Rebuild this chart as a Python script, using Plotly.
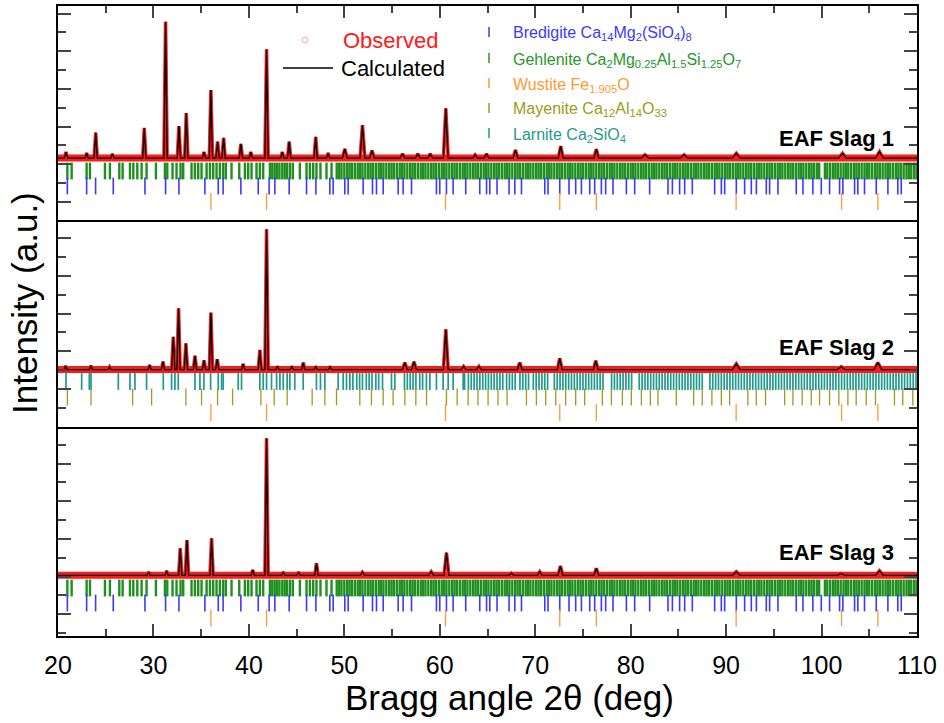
import plotly.graph_objects as go

# ---------------- data ----------------
X_RANGE = [20, 110]

# reflection positions (2theta, deg) of each phase
wustite = [36.02, 41.85, 60.6, 72.57, 76.4, 91.05, 102.1, 105.9]

bredigite = [20.98, 23.0, 23.94, 25.79, 29.11, 31.27, 32.67, 35.39, 36.79, 37.3, 39.16,
             40.98, 42.12, 42.72, 44.22, 46.04, 47.02, 48.48, 48.83, 50.05, 50.4, 51.97,
             52.95, 53.37, 54.07, 55.64, 56.16, 57.04, 59.65, 60.0, 60.7, 61.4, 62.72,
             64.19, 64.9, 65.24, 66.0, 67.26, 67.86, 68.56, 71.0, 71.34, 72.57, 73.54,
             74.24, 74.84, 75.71, 76.23, 76.93, 77.38, 78.15, 79.55, 80.42, 81.99, 83.91,
             84.37, 85.13, 85.66, 86.46, 88.8, 89.5, 89.85, 91.07, 91.94, 92.64, 93.17,
             94.21, 94.56, 95.43, 97.35, 98.05, 99.09, 99.97, 100.84, 101.89, 102.23,
             103.46, 103.8, 104.5, 105.73, 106.95, 107.99, 108.35]

gehlenite = [20.98, 21.43, 23.0, 23.35, 24.92, 25.44, 26.42, 26.77, 27.54, 27.89, 28.31,
             28.76, 29.28, 30.26, 31.2, 31.45, 32.0, 32.42, 32.84, 33.12, 33.99, 34.34,
             34.69, 35.04, 35.57, 35.92, 36.26, 36.61, 36.96, 37.31, 37.59, 38.18, 38.99,
             39.58, 39.93, 40.28, 40.8, 41.15, 41.5, 42.2, 42.45, 42.7, 42.95, 43.2, 43.5,
             43.75, 44.0, 44.3, 44.6, 45.34, 46.04, 46.39, 46.74, 47.08, 47.5, 48.13, 48.66,
             49.2, 49.45, 49.7, 50.0, 50.3, 50.55, 50.8, 51.1, 51.4, 51.65, 51.9, 52.2, 52.5,
             52.75, 53.0, 53.3, 53.6, 53.85, 54.1, 54.4, 54.7, 54.95, 55.2, 55.5, 55.8,
             56.05, 56.3, 56.6, 56.9, 57.15, 57.4, 57.7, 58.0, 58.25, 58.5, 58.8, 59.1,
             59.35, 59.6, 59.9, 60.2, 60.45, 60.7, 61.0, 61.3, 61.55, 61.8, 62.1, 62.4,
             62.65, 62.9, 63.2, 63.5, 63.75, 64.0, 64.3, 64.6, 64.85, 65.1, 65.4, 65.7,
             65.95, 66.2, 66.5, 66.8, 67.05, 67.3, 67.6, 67.9, 68.15, 68.4, 68.7, 69.0,
             69.25, 69.5, 69.8, 70.1, 70.35, 70.6, 70.9, 71.2, 71.45, 71.7, 72.0, 72.3,
             72.55, 72.8, 73.1, 73.4, 73.65, 73.9, 74.2, 74.5, 74.75, 75.0, 75.3, 75.6,
             75.85, 76.1, 76.4, 76.7, 76.95, 77.2, 77.5, 77.8, 78.05, 78.3, 78.6, 78.9,
             79.15, 79.4, 79.7, 80.0, 80.25, 80.5, 80.8, 81.1, 81.35, 81.6, 81.9, 82.2,
             82.45, 82.7, 83.0, 83.3, 83.55, 83.8, 84.1, 84.4, 84.65, 84.9, 85.2, 85.5,
             85.75, 86.0, 86.3, 86.6, 86.85, 87.1, 87.4, 87.7, 87.95, 88.2, 88.5, 88.8,
             89.05, 89.3, 89.6, 89.9, 90.15, 90.4, 90.7, 91.0, 91.25, 91.5, 91.8, 92.1,
             92.35, 92.6, 92.9, 93.2, 93.45, 93.7, 94.0, 94.3, 94.55, 94.8, 95.1, 95.4,
             95.65, 95.9, 96.2, 96.5, 96.75, 97.0, 97.3, 97.6, 97.85, 98.1, 98.4, 98.7,
             98.95, 99.2, 99.5, 99.75, 100.35, 100.6, 100.9, 101.2, 101.45, 101.7, 102.0,
             102.3, 102.55, 102.8, 103.1, 103.4, 103.65, 103.9, 104.2, 104.5, 104.75, 105.0,
             105.3, 105.6, 105.85, 106.1, 106.4, 106.7, 106.95, 107.2, 107.5, 107.8, 108.05,
             108.3, 108.6, 108.9, 109.15, 109.4, 109.7, 109.95]

mayenite = [20.98, 23.46, 27.82, 29.81, 33.4, 35.04, 36.72, 38.29, 41.26, 42.65, 44.01,
            46.63, 47.96, 49.18, 51.62, 52.84, 54.07, 55.11, 56.34, 57.49, 58.61, 60.7,
            61.82, 62.97, 64.0, 65.06, 66.1, 67.05, 69.08, 70.12, 71.1, 72.15, 73.19, 74.24,
            75.18, 77.03, 77.98, 79.13, 80.07, 81.12, 82.06, 82.86, 84.78, 86.6, 87.5,
            88.51, 89.5, 90.37, 92.28, 93.16, 94.13, 96.13, 97.0, 97.97, 98.92, 99.79,
            100.84, 101.81, 102.76, 103.63, 104.68, 105.65, 107.64, 108.51, 109.56]

larnite = [20.84, 22.48, 23.28, 23.46, 26.32, 27.54, 28.06, 29.28, 31.03, 31.9, 32.25, 32.6,
           34.35, 34.87, 35.29, 35.99, 36.79, 37.14, 37.31, 38.88, 39.23, 41.15, 41.5, 41.85,
           42.37, 42.9, 43.25, 43.6, 44.01, 44.29, 44.81, 45.69, 47.08, 47.5, 47.96, 49.35,
           49.88, 50.23, 50.58, 50.9, 51.3, 51.6, 51.9, 52.3, 52.6, 52.9, 53.3, 53.6, 54.0,
           54.94, 55.29, 56.3, 56.6, 56.9, 57.2, 57.5, 57.9, 58.2, 58.6, 58.96, 59.65, 60.35,
           60.88, 61.4, 62.45, 62.6, 63.0, 63.3, 63.6, 63.9, 64.2, 64.5, 64.8, 65.1, 65.4,
           65.7, 66.0, 66.3, 66.6, 67.0, 67.3, 67.6, 67.9, 68.4, 68.7, 69.0, 69.3, 69.8,
           70.1, 70.4, 70.7, 71.0, 71.3, 72.0, 72.3, 72.6, 72.9, 73.2, 73.5, 73.8, 74.1,
           74.4, 74.7, 75.0, 75.3, 75.6, 75.9, 76.2, 76.5, 76.8, 77.1, 78.0, 78.3, 78.6,
           78.9, 79.2, 79.5, 79.8, 80.1, 80.9, 81.2, 81.5, 81.8, 82.1, 82.4, 82.7, 83.0,
           83.3, 83.6, 83.9, 84.2, 84.5, 84.8, 85.1, 85.4, 85.7, 86.0, 86.3, 86.6, 86.9,
           87.2, 87.5, 88.3, 88.6, 88.9, 89.2, 89.5, 89.8, 90.1, 90.4, 90.7, 91.0, 91.3,
           91.6, 91.9, 92.2, 92.5, 92.8, 93.1, 93.4, 93.7, 94.0, 94.3, 94.6, 94.9, 95.2,
           95.5, 95.8, 96.1, 96.4, 96.7, 97.0, 97.3, 97.6, 97.9, 98.2, 98.5, 98.8, 99.1,
           99.4, 99.7, 100.0, 100.3, 100.6, 100.9, 101.2, 101.5, 101.8, 102.1, 102.4, 102.7,
           103.0, 103.3, 103.6, 103.9, 104.2, 104.5, 104.8, 105.1, 105.4, 105.7, 106.0,
           106.3, 106.6, 106.9, 107.2, 107.5, 107.8, 108.1, 108.4, 108.7, 109.0, 109.3,
           109.6, 109.9]

# diffraction peaks of each sample: background level, peak positions, peak maxima (a.u.)
slag1_base = 2.33
slag1_pos = [20.84, 23.0, 23.95, 25.7, 29.04, 31.27, 32.67, 33.44, 35.3, 36.02, 36.72, 37.35,
             39.16, 40.2, 41.85, 43.5, 44.22, 47.0, 48.3, 50.05, 51.9, 52.9, 56.1, 57.7,
             59.0, 60.63, 63.7, 64.9, 67.93, 72.67, 76.4, 81.5, 85.6, 91.07, 102.2, 106.07]
slag1_int = [2.65, 2.6, 3.68, 2.55, 3.93, 9.56, 4.03, 4.72, 2.65, 5.94, 3.2, 3.4,
             3.08, 2.65, 8.1, 2.65, 3.2, 3.46, 2.6, 2.81, 4.08, 2.73, 2.55, 2.55,
             2.55, 4.97, 2.5, 2.55, 2.76, 2.97, 2.8, 2.5, 2.5, 2.58, 2.58, 2.67]

slag2_base = 1.03
slag2_pos = [20.8, 23.45, 25.4, 29.6, 31.0, 32.08, 32.63, 33.4, 34.35, 35.3, 36.02, 36.68,
             39.4, 41.15, 41.85, 43.0, 44.5, 45.7, 47.0, 48.5, 56.34, 57.3, 60.63, 62.5,
             64.1, 68.38, 72.57, 76.34, 91.07, 102.06, 105.9]
slag2_int = [1.22, 1.24, 1.17, 1.27, 1.45, 2.77, 4.28, 2.42, 1.76, 1.52, 4.05, 1.58,
             1.33, 2.07, 8.47, 1.2, 1.2, 1.4, 1.2, 1.2, 1.4, 1.45, 3.17, 1.2,
             1.2, 1.4, 1.63, 1.5, 1.33, 1.18, 1.4]

slag3_base = 2.07
slag3_pos = [29.5, 31.38, 32.81, 33.51, 36.09, 40.4, 41.85, 43.6, 45.2, 47.08, 51.9, 59.1,
             60.7, 67.5, 70.47, 72.64, 76.4, 91.07, 102.06, 106.07]
slag3_int = [2.24, 2.31, 3.5, 3.94, 4.03, 2.35, 9.34, 2.24, 2.24, 2.71, 2.24, 2.26,
             3.27, 2.18, 2.26, 2.56, 2.44, 2.26, 2.17, 2.31]

samples = ["EAF Slag 1", "EAF Slag 2", "EAF Slag 3"]

# ---------------- styling ----------------
FONT = "Arial, 'Liberation Sans', Helvetica, sans-serif"
RED = "#ff1a1a"
BLUE = "#3a3aff"
GREEN = "#1f8f1f"
ORANGE = "#ff9a30"
OLIVE = "#9c9c20"
TEAL = "#1f9a8c"

W, H = 944, 723
L, R, T, B = 58, 27, 6, 87
PW, PH = W - L - R, H - T - B


def px2x(px):
    return (px - L) / PW


def px2y(py):
    return (H - B - py) / PH


def profile(base, pos, hts):
    """polyline of background + peak maxima"""
    xs, ys = [X_RANGE[0]], [base]
    for p, h in sorted(zip(pos, hts)):
        hw = 0.17 if p < 50 else (0.25 if p < 80 else 0.4)
        xs += [p - hw, p, p + hw]
        ys += [base, h, base]
    xs.append(X_RANGE[1])
    ys.append(base)
    return xs, ys


# panel pixel extents (top, bottom, pixel of y=0)
panels = [(6, 220, 202.0), (220, 427, 389.0), (427, 636, 614.3)]
UNIT = 18.85  # px per a.u. tick step

fig = go.Figure()

data_sets = [(slag1_base, slag1_pos, slag1_int),
             (slag2_base, slag2_pos, slag2_int),
             (slag3_base, slag3_pos, slag3_int)]

# reflection rows: (phase list, colour, y row in a.u., line width)
rows = [
    [(gehlenite, GREEN, (202 - 171) / UNIT, 2.4), (bredigite, BLUE, (202 - 186) / UNIT, 1.6),
     (wustite, ORANGE, (202 - 201.5) / UNIT, 1.3)],
    [(larnite, TEAL, (389 - 381.5) / UNIT, 1.7), (mayenite, OLIVE, (389 - 397) / UNIT, 1.3),
     (wustite, ORANGE, (389 - 412.5) / UNIT, 1.3)],
    [(gehlenite, GREEN, (614.3 - 588) / UNIT, 2.4), (bredigite, BLUE, (614.3 - 603) / UNIT, 1.6),
     (wustite, ORANGE, (614.3 - 618) / UNIT, 1.3)],
]

for i, ((base, pos, hts), rowset) in enumerate(zip(data_sets, rows)):
    ax = "" if i == 0 else str(i + 1)
    xs, ys = profile(base, pos, hts)
    # observed: dense open circles -> thick band on the background, thin trace on peaks
    fig.add_trace(go.Scatter(x=X_RANGE, y=[base, base], mode="lines",
                             line=dict(color=RED, width=7),
                             xaxis="x" + ax, yaxis="y" + ax, hoverinfo="skip"))
    fig.add_trace(go.Scatter(x=xs, y=ys, mode="lines", line=dict(color=RED, width=3.5),
                             xaxis="x" + ax, yaxis="y" + ax, name="Observed", hoverinfo="skip"))
    fig.add_trace(go.Scatter(x=xs, y=ys, mode="lines", line=dict(color="black", width=1.3),
                             xaxis="x" + ax, yaxis="y" + ax, name="Calculated"))
    for lst, col, yrow, lw in rowset:
        fig.add_trace(go.Scatter(x=lst, y=[yrow] * len(lst), mode="markers",
                                 marker=dict(symbol="line-ns", size=12,
                                             line=dict(color=col, width=lw)),
                                 xaxis="x" + ax, yaxis="y" + ax, hoverinfo="skip"))

axis_line = dict(showline=True, linecolor="black", linewidth=2,
                 showgrid=False, zeroline=False)

layout = dict(width=W, height=H, margin=dict(l=L, r=R, t=T, b=B),
              plot_bgcolor="white", paper_bgcolor="white", showlegend=False,
              font=dict(family=FONT, color="black"))

for i, (top, bot, zero) in enumerate(panels):
    ax = "" if i == 0 else str(i + 1)
    ydom = [px2y(bot), px2y(top)]
    yr = [-(bot - zero) / UNIT, (zero - top) / UNIT]
    layout["yaxis" + ax] = dict(domain=ydom, range=yr, anchor="x" + ax, ticks="inside",
                                ticklen=13, tickwidth=2, tick0=0, dtick=2, mirror="ticks",
                                minor=dict(ticks="inside", ticklen=8, tickwidth=1.5, dtick=1),
                                showticklabels=False, **axis_line)
    xa = dict(domain=[0, 1], range=X_RANGE, anchor="y" + ax, **axis_line)
    if i > 0:
        xa["matches"] = "x"
    if i == 0:
        # top frame with ticks + separator line below panel 1
        xa.update(side="top", mirror=True, ticks="inside", ticklen=12, tickwidth=2, tick0=0,
                  dtick=10, minor=dict(ticks="inside", ticklen=7, tickwidth=1.5, dtick=5),
                  showticklabels=False)
    elif i == 1:
        xa.update(side="bottom", mirror=False, ticks="", showticklabels=False)
    else:
        xa.update(side="bottom", mirror=False, ticks="inside", ticklen=12, tickwidth=2,
                  tick0=0, dtick=10,
                  minor=dict(ticks="inside", ticklen=7, tickwidth=1.5, dtick=5),
                  tickfont=dict(size=25, family=FONT, color="black"), ticklabelstandoff=6)
    layout["xaxis" + ax] = xa

fig.update_layout(**layout)


def label(text, px, py, size, color="black", xanchor="left", angle=0):
    return dict(text=text, x=px2x(px), y=px2y(py), xref="paper", yref="paper",
                xanchor=xanchor, yanchor="middle", showarrow=False, textangle=angle,
                font=dict(size=size, family=FONT, color=color))


ann = []
# axis titles
ann.append(label("Bragg angle 2θ (deg)", 509, 697, 35, xanchor="center"))
ann.append(label("Intensity (a.u.)", 24, 303, 35, xanchor="center", angle=-90))
# sample labels
for s, py in zip(samples, [138, 347, 552]):
    ann.append(label("<b>%s</b>" % s, 896, py, 22, xanchor="right"))
# legend: observed / calculated
ann.append(label("Observed", 341, 40, 22, color=RED))
ann.append(label("Calculated", 339, 68, 22))
# legend: phases
phases = [("Bredigite Ca<sub>14</sub>Mg<sub>2</sub>(SiO<sub>4</sub>)<sub>8</sub>", BLUE),
          ("Gehlenite Ca<sub>2</sub>Mg<sub>0.25</sub>Al<sub>1.5</sub>Si<sub>1.25</sub>O<sub>7</sub>", "#2a962a"),
          ("Wustite Fe<sub>1.905</sub>O", ORANGE),
          ("Mayenite Ca<sub>12</sub>Al<sub>14</sub>O<sub>33</sub>", OLIVE),
          ("Larnite Ca<sub>2</sub>SiO<sub>4</sub>", TEAL)]
shapes = []
for (txt, col), py in zip(phases, [32, 58, 83, 108, 133]):
    ann.append(label(txt, 511, py + 2, 16, color=col))
    shapes.append(dict(type="line", xref="paper", yref="paper", x0=px2x(489), x1=px2x(489),
                       y0=px2y(py - 5), y1=px2y(py + 5), line=dict(color=col, width=1.5)))
shapes.append(dict(type="line", xref="paper", yref="paper", x0=px2x(283), x1=px2x(333),
                   y0=px2y(68), y1=px2y(68), line=dict(color="black", width=1.3)))
shapes.append(dict(type="circle", xref="paper", yref="paper", x0=px2x(302), x1=px2x(308),
                   y0=px2y(43), y1=px2y(37), line=dict(color="#f4b0b0", width=1)))
fig.update_layout(annotations=ann, shapes=shapes)

fig.write_html("out.html", config={"displayModeBar": False},
               post_script="document.body.style.margin='0';")
